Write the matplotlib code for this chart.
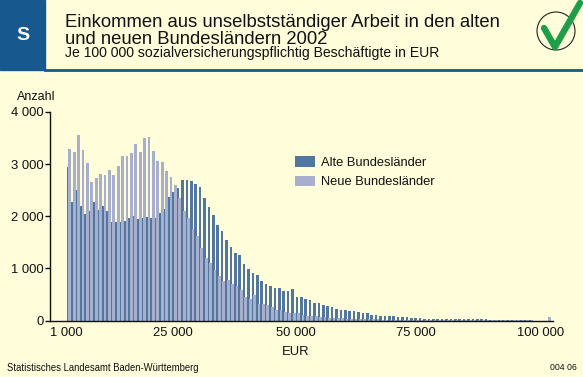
import matplotlib
matplotlib.use("Agg")
import matplotlib.pyplot as plt
import numpy as np
from matplotlib.patches import Rectangle, Circle
from matplotlib.lines import Line2D

plt.rcParams['font.family'] = ['Liberation Sans', 'DejaVu Sans']

# ---- data (count per 100 000 employees, 1000-EUR income classes) ----
alte = [2950, 2270, 2505, 2195, 2040, 2100, 2270, 2120, 2195, 2100,
        1890, 1890, 1890, 1905, 1965, 2005, 1945, 1965, 1985, 1965,
        1965, 2060, 2140, 2370, 2465, 2545, 2695, 2695, 2680, 2620,
        2560, 2350, 2175, 2025, 1830, 1715, 1540, 1405, 1290, 1250,
        1080, 985, 905, 865, 750, 695, 655, 615, 615, 560,
        560, 595, 460, 445, 405, 385, 345, 330, 290, 270,
        250, 230, 210, 195, 175, 175, 155, 135, 135, 115,
        115, 95, 95, 80, 80, 75, 60, 58, 55, 40,
        40, 38, 38, 38, 38, 38, 38, 25, 25, 25,
        25, 25, 25, 25, 25, 25, 15, 15, 15, 15,
        15, 15, 15, 15, 15, 15, 0, 0, 0, 0]
neue = [3295, 3235, 3565, 3275, 3025, 2660, 2735, 2815, 2795, 2890,
        2795, 2965, 3160, 3160, 3220, 3390, 3235, 3505, 3525, 3255,
        3065, 3045, 2870, 2755, 2600, 2350, 2100, 1965, 1755, 1620,
        1385, 1195, 1100, 965, 850, 750, 770, 695, 655, 580,
        460, 405, 480, 310, 310, 290, 250, 210, 195, 155,
        135, 135, 135, 115, 77, 77, 77, 58, 58, 39,
        39, 39, 39, 20, 20, 20, 20, 20, 20, 20,
        20, 10, 10, 10, 10, 10, 10, 10, 10, 10,
        10, 10, 10, 10, 10, 10, 10, 10, 10, 10,
        10, 5, 5, 5, 5, 5, 5, 5, 5, 5,
        5, 5, 5, 5, 5, 5, 0, 0, 0, 65]
x_labels = ["1 000", "25 000", "50 000", "75 000", "100 000"]
y_ticks = [0, 1000, 2000, 3000, 4000]
y_labels = ["0", "1 000", "2 000", "3 000", "4 000"]
series_names = ["Alte Bundesländer", "Neue Bundesländer"]

BG = "#FFFDDA"
DARK = "#52779F"
LIGHT = "#A8AFCC"
HEAD = "#17588E"
TXT = "#111111"

W, H = 583, 377
fig = plt.figure(figsize=(W / 100, H / 100), dpi=100, facecolor=BG)

def fx(px):
    return px / W

def fy(py):
    return 1 - py / H

ax = fig.add_axes([fx(50), fy(320.5), fx(553) - fx(50), fy(112) - fy(320.5)])
ax.set_facecolor(BG)

idx = np.arange(len(alte))
bw = 0.62
b1 = ax.bar(idx - 0.2, alte, width=bw, color=DARK, linewidth=0, zorder=2,
            label=series_names[0])
b2 = ax.bar(idx + 0.2, neue, width=bw, color=LIGHT, linewidth=0, zorder=3,
            label=series_names[1])

ax.set_xlim(-4.31, 110.0)
ax.set_ylim(0, 4000)
for s in ["top", "right"]:
    ax.spines[s].set_visible(False)
for s in ["left", "bottom"]:
    ax.spines[s].set_linewidth(1.0)
    ax.spines[s].set_color(TXT)
    ax.spines[s].set_zorder(5)

FS = 9.4
ax.set_yticks(y_ticks)
ax.set_yticklabels(y_labels, fontsize=FS)
ax.tick_params(axis="y", direction="out", length=3.6, width=1.0, pad=1.2,
               colors=TXT)
ax.set_xticks([-0.5, 23.7, 51.6, 78.9, 107.1])
ax.set_xticklabels(x_labels, fontsize=FS)
ax.tick_params(axis="x", length=0, pad=5, colors=TXT)

fig.text(fx(36), fy(100.5), "Anzahl", fontsize=9.0, ha="center", va="baseline",
         color=TXT)
fig.text(fx(296), fy(355), "EUR", fontsize=FS, ha="center", va="baseline",
         color=TXT)

leg = ax.legend(handles=[b1, b2], loc="upper left",
                bbox_to_anchor=(fx(295), fy(156.5)), bbox_transform=fig.transFigure,
                frameon=False, fontsize=9.3, handlelength=1.55, handleheight=0.85,
                handletextpad=0.5, labelspacing=0.5, borderpad=0, borderaxespad=0)
for t in leg.get_texts():
    t.set_color(TXT)

# header
fig.patches.append(Rectangle((0, fy(70)), fx(45), 1 - fy(70), transform=fig.transFigure,
                             color=HEAD, zorder=1))
fig.lines.append(Line2D([fx(45), 1], [fy(70.3), fy(70.3)], transform=fig.transFigure,
                        color=HEAD, linewidth=2.0))
fig.text(fx(22.5), fy(36), "S", fontsize=14, fontweight="bold", color="white",
         ha="center", va="center")
fig.text(fx(65), fy(27), "Einkommen aus unselbstständiger Arbeit in den alten",
         fontsize=13.3, ha="left", va="baseline", color=TXT)
fig.text(fx(65), fy(44), "und neuen Bundesländern 2002",
         fontsize=13.3, ha="left", va="baseline", color=TXT)
fig.text(fx(65), fy(57.5), "Je 100 000 sozialversicherungspflichtig Beschäftigte in EUR",
         fontsize=10.1, ha="left", va="baseline", color=TXT)

# check mark logo
fig.patches.append(Circle((556, H - 31), 19, transform=None, fill=False,
                          edgecolor="#222222", linewidth=0.8))
fig.lines.append(Line2D([544, 555, 580], [H - 28, H - 47, H - 3], transform=None,
                        color="#1E9E48", linewidth=4.6, solid_capstyle="round",
                        solid_joinstyle="round"))

# footer
fig.text(fx(7), fy(371), "Statistisches Landesamt Baden-Württemberg", fontsize=6.85,
         ha="left", va="baseline", color=TXT)
fig.text(fx(577), fy(369.5), "004 06", fontsize=6.3, ha="right", va="baseline",
         color=TXT)

fig.savefig("out.png", dpi=100, facecolor=BG)
